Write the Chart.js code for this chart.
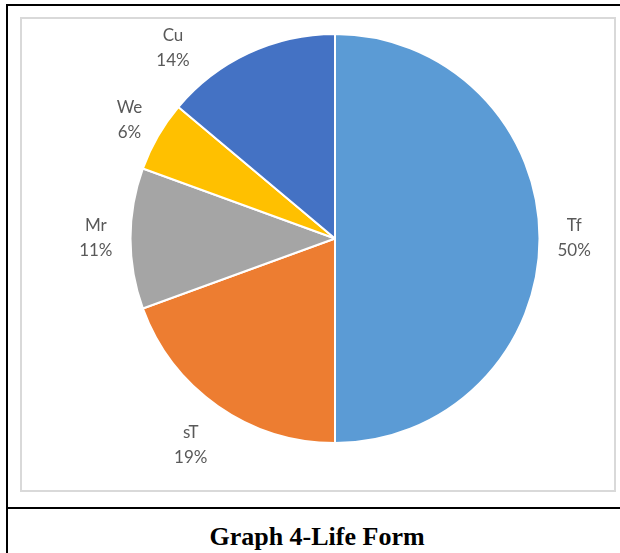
<!DOCTYPE html>
<html>
<head>
<meta charset="utf-8">
<script src="https://cdn.jsdelivr.net/npm/chart.js@4/dist/chart.umd.min.js"></script>
<style>
  html, body { margin: 0; padding: 0; background: #ffffff; width: 620px; height: 553px; overflow: hidden; }
  #outer { position: absolute; left: 6px; top: 4px; width: 620px; height: 547px; border: 2px solid #000; box-sizing: content-box; }
  #divider { position: absolute; left: 6px; top: 507px; width: 624px; height: 0; border-top: 2px solid #000; }
  #frame { position: absolute; left: 20px; top: 17px; width: 592px; height: 471px; border: 2px solid #d9d9d9; }
  #frame canvas { display: block; }
  #title { position: absolute; left: 6px; top: 515px; width: 622px; height: 36px; text-align: center;
           font-family: "Liberation Serif", "Times New Roman", serif; font-weight: bold; font-size: 26px; line-height: 44px; color: #000; }
</style>
</head>
<body>
<div id="outer"></div>
<div id="divider"></div>
<div id="frame"><canvas id="c" width="592" height="471"></canvas></div>
<div id="title">Graph 4-Life Form</div>
<script>
const categories = ["Tf", "sT", "Mr", "We", "Cu"];
const counts = [18, 7, 4, 2, 5];
const colors = ["#5B9BD5", "#ED7D31", "#A5A5A5", "#FFC000", "#4472C4"];

const labelPlugin = {
  id: "outsideLabels",
  afterDatasetsDraw(chart) {
    const ctx = chart.ctx;
    const meta = chart.getDatasetMeta(0);
    const data = chart.data.datasets[0].data;
    const total = data.reduce((a, b) => a + b, 0);
    const fontSize = 17, lineH = 25, gap = 18, minTop = 4;
    ctx.save();
    ctx.font = fontSize + "px Lato, 'Open Sans', sans-serif";
    ctx.fillStyle = "#595959";
    ctx.textAlign = "center";
    ctx.textBaseline = "middle";
    meta.data.forEach((arc, i) => {
      const p = arc.getProps(["x", "y", "startAngle", "endAngle", "outerRadius"], true);
      const mid = (p.startAngle + p.endAngle) / 2;
      const c = Math.cos(mid), s = Math.sin(mid);
      const l1 = chart.data.labels[i];
      const l2 = Math.round(data[i] / total * 100) + "%";
      const w = Math.max(ctx.measureText(l1).width, ctx.measureText(l2).width);
      const h = 2 * lineH;
      const ex = Math.abs(c) > 1e-6 ? (w / 2) / Math.abs(c) : Infinity;
      const ey = Math.abs(s) > 1e-6 ? (h / 2) / Math.abs(s) : Infinity;
      const R = p.outerRadius + gap + Math.min(ex, ey);
      let x = p.x + c * R, y = p.y + s * R;
      if (y - h / 2 < minTop) {
        y = minTop + h / 2;
        const dy = y - p.y;
        const dx = Math.sqrt(Math.max(R * R - dy * dy, 0));
        x = p.x + (c < 0 ? -dx : dx);
      }
      ctx.fillText(l1, x, y - lineH / 2);
      ctx.fillText(l2, x, y + lineH / 2);
    });
    ctx.restore();
  }
};

new Chart(document.getElementById("c"), {
  type: "pie",
  data: {
    labels: categories,
    datasets: [{
      data: counts,
      backgroundColor: colors,
      borderColor: "#ffffff",
      borderWidth: 2
    }]
  },
  options: {
    responsive: false,
    animation: false,
    layout: { padding: { left: 107.5, right: 73.5, top: 14, bottom: 46 } },
    plugins: { legend: { display: false }, tooltip: { enabled: false } }
  },
  plugins: [labelPlugin]
});
</script>
</body>
</html>
